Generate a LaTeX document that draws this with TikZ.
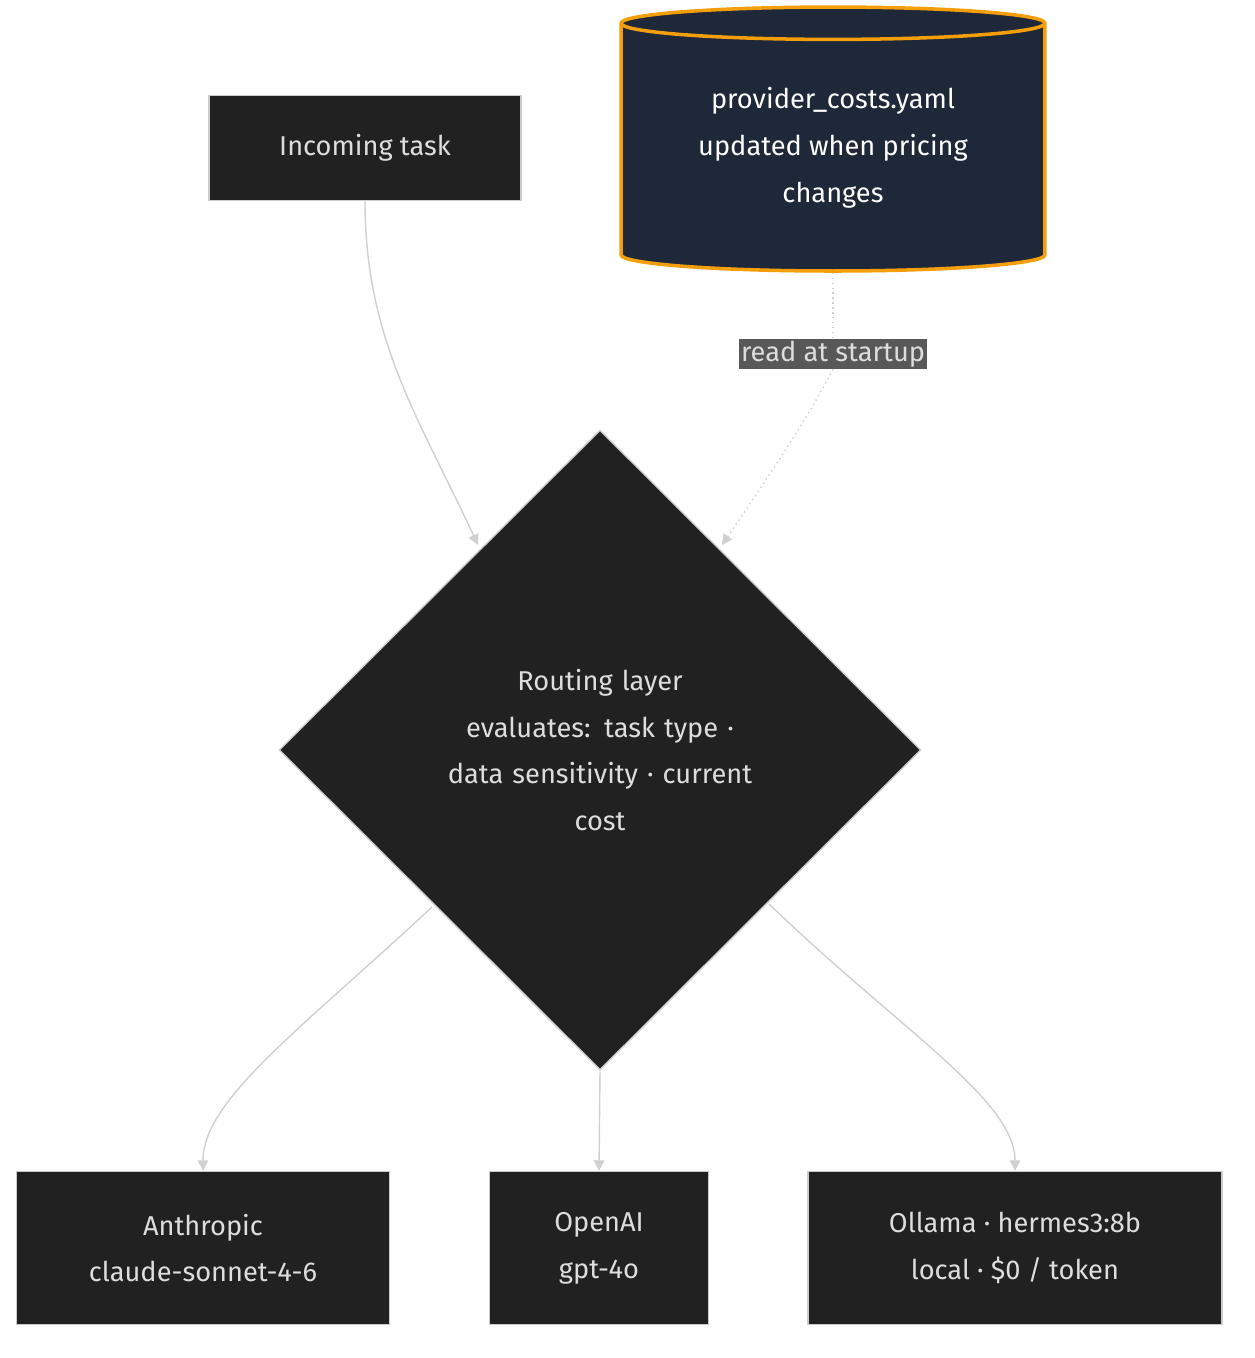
\documentclass[tikz,border=0pt]{standalone}
\usepackage{fontspec}
\setmainfont{Fira Sans}
\usetikzlibrary{arrows.meta,shapes.geometric}
\definecolor{boxfill}{HTML}{202120}
\definecolor{boxline}{HTML}{CCCCCC}
\definecolor{txt}{HTML}{DDDDDD}
\definecolor{dbfill}{HTML}{1F2838}
\definecolor{dborange}{HTML}{F59E0B}
\definecolor{lblfill}{HTML}{585858}
\definecolor{edgecol}{HTML}{D0D0D0}

\begin{document}
\begin{tikzpicture}[
        x=0.02cm, y=-0.02cm,
        every node/.style={font=\fontsize{15.5}{26.7}\selectfont, text=txt, align=center},
        box/.style={draw=boxline, fill=boxfill, line width=0.8pt, inner sep=0pt},
        store/.style={cylinder, shape border rotate=90, aspect=0.12, draw=dborange,
            fill=dbfill, line width=2pt, minimum width=8.48cm, minimum height=5.28cm,
            text=white, inner sep=0pt},
        decide/.style={diamond, draw=boxline, fill=boxfill, line width=0.8pt,
            minimum width=12.84cm, minimum height=12.8cm, inner sep=0pt, text width=7.5cm},
        edgelabel/.style={fill=lblfill, inner sep=1pt},
        arrow/.style={-{Triangle[width=6pt,length=6pt]}, draw=edgecol, line width=0.8pt}
    ]
        \useasboundingbox (0,0) rectangle (1254,1358);

        % nodes
        \node[box, minimum width=6.24cm, minimum height=2.1cm] (task) at (365,148) {Incoming task};
        \node[store] (costs) at (833,148) {provider\_costs.yaml\\updated when pricing\\changes};
        \node[decide] (router) at (600,750) {Routing layer\\evaluates: task type ·\\data sensitivity · current\\cost};
        \node[box, minimum width=7.46cm, minimum height=3.06cm] (anthropic) at (203,1248) {Anthropic\\claude-sonnet-4-6};
        \node[box, minimum width=4.38cm, minimum height=3.06cm] (openai) at (599,1248) {OpenAI\\gpt-4o};
        \node[box, minimum width=8.28cm, minimum height=3.06cm] (ollama) at (1015,1248) {Ollama · hermes3:8b\\local · \$0 / token};
        \node[edgelabel] (readlbl) at (833,354) {read at startup};
        \coordinate (inleft) at (478,545);
        \coordinate (inright) at (722,545);

        % edges
        \draw[arrow] (task.south) .. controls (365,340) and (420,420) .. (inleft);
        \draw[edgecol, line width=0.8pt, dotted] (costs.south) -- (readlbl.north);
        \draw[arrow, dotted] (readlbl.south) .. controls (812,410) and (780,460) .. (inright);
        \draw[arrow] (432,907) .. controls (300,1030) and (203,1100) .. (anthropic.north);
        \draw[arrow] (router.south) -- (openai.north);
        \draw[arrow] (769,904) .. controls (900,1030) and (1015,1100) .. (ollama.north);
    \end{tikzpicture}
\end{document}
